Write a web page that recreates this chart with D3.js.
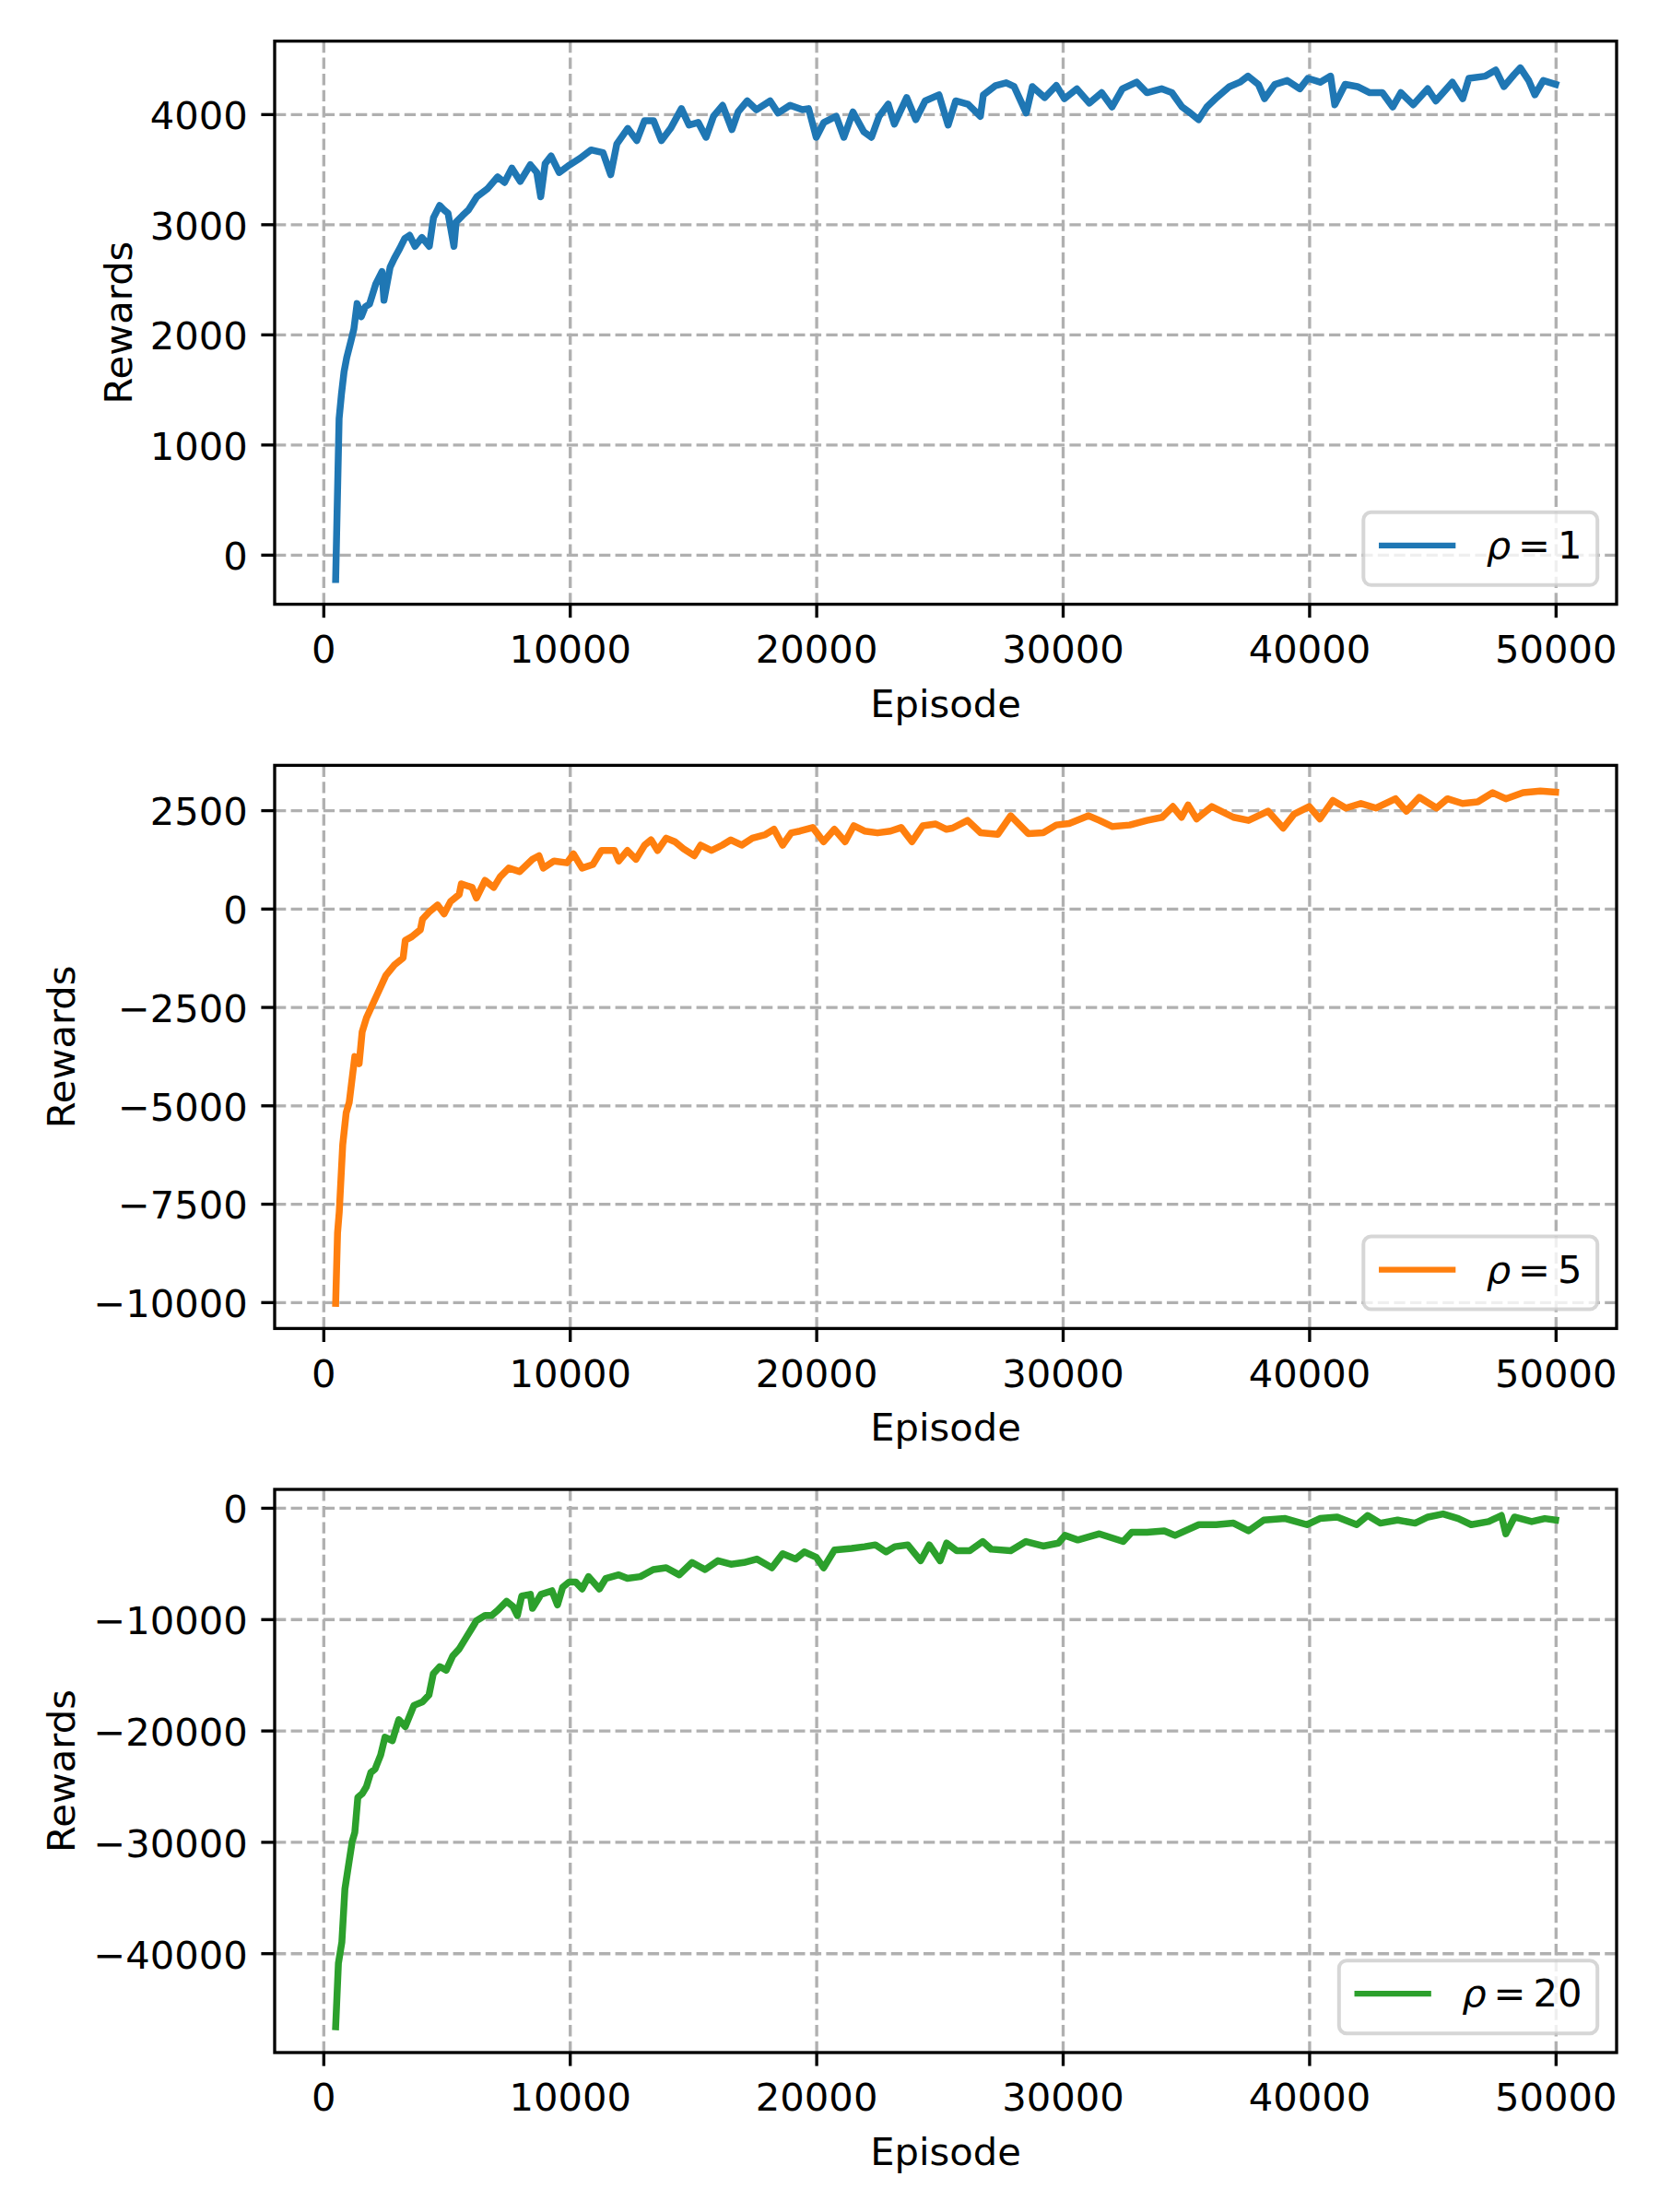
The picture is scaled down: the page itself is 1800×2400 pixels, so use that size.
<!DOCTYPE html>
<html lang="en">
<head>
<meta charset="UTF-8">
<title>Rewards per episode</title>
<script src="https://d3js.org/d3.v7.min.js"></script>
<style>
  body { margin: 0; background: #fff; }
  text { font-family: "DejaVu Sans", sans-serif; }
</style>
</head>
<body>
<div id="chart"></div>
<script>
// [episode, reward]
const rho1 = [[500,-225],[640,1235],[735,1456],[840,1660],[950,1790],[1120,1940],[1240,2050],[1370,2280],[1540,2160],[1700,2250],[1875,2275],[2130,2460],[2380,2570],[2460,2310],[2710,2610],[2880,2690],[3100,2780],[3300,2870],[3500,2900],[3720,2800],[4000,2880],[4300,2800],[4470,3060],[4720,3170],[4900,3130],[5060,3100],[5300,2800],[5390,3020],[5650,3080],[5890,3130],[6230,3250],[6650,3320],[7070,3430],[7350,3380],[7650,3510],[7990,3390],[8400,3540],[8660,3470],[8820,3250],[9000,3550],[9240,3620],[9570,3470],[10000,3540],[10420,3600],[10860,3675],[11350,3650],[11660,3450],[11910,3730],[12350,3870],[12720,3760],[13030,3940],[13400,3940],[13720,3760],[14090,3870],[14530,4050],[14840,3900],[15210,3925],[15530,3790],[15830,3980],[16200,4080],[16580,3860],[16830,4020],[17200,4120],[17570,4040],[18130,4120],[18450,4010],[18940,4080],[19440,4040],[19690,4050],[20000,3790],[20310,3925],[20810,3980],[21120,3790],[21490,4020],[21930,3840],[22240,3790],[22550,3980],[22920,4090],[23170,3910],[23670,4150],[24040,3950],[24420,4120],[24980,4175],[25350,3900],[25660,4120],[26160,4090],[26660,3980],[26780,4175],[27280,4260],[27710,4285],[28030,4250],[28520,4010],[28770,4250],[29270,4150],[29740,4260],[30070,4140],[30575,4230],[31080,4100],[31580,4195],[32000,4065],[32420,4230],[33000,4290],[33420,4195],[34010,4230],[34430,4195],[34845,4065],[35180,4010],[35515,3950],[35850,4065],[36270,4155],[36770,4250],[37190,4290],[37520,4345],[37940,4270],[38190,4140],[38610,4270],[39110,4305],[39620,4230],[39950,4325],[40450,4290],[40870,4345],[41040,4085],[41460,4270],[41960,4250],[42460,4195],[42970,4195],[43390,4065],[43720,4195],[44220,4085],[44810,4230],[45140,4120],[45810,4290],[46230,4140],[46480,4325],[47150,4345],[47570,4400],[47900,4250],[48320,4360],[48570,4420],[48910,4305],[49160,4175],[49500,4305],[50000,4270]];

const rho5 = [[500,-10030],[577,-8240],[647,-7700],[787,-6000],[927,-5190],[1050,-4925],[1137,-4477],[1277,-3760],[1452,-3940],[1575,-3134],[1750,-2776],[2012,-2418],[2275,-2060],[2537,-1700],[2887,-1430],[3237,-1254],[3325,-806],[3587,-716],[3937,-537],[4025,-270],[4287,-90],[4637,90],[4900,-134],[5162,180],[5512,358],[5600,627],[6037,537],[6212,268],[6562,716],[6912,537],[7174,806],[7524,1030],[7962,940],[8487,1254],[8750,1343],[8924,1030],[9361,1209],[9886,1164],[10149,1388],[10499,1030],[10936,1120],[11286,1477],[11811,1477],[11986,1209],[12336,1477],[12686,1254],[13036,1612],[13298,1746],[13561,1477],[13911,1791],[14261,1701],[14611,1522],[15048,1343],[15311,1612],[15748,1477],[16185,1612],[16535,1746],[16973,1612],[17410,1791],[17935,1880],[18285,2015],[18635,1612],[18985,1925],[19335,1970],[19860,2060],[20297,1701],[20735,2015],[21172,1701],[21522,2104],[21960,1970],[22485,1925],[23010,1970],[23447,2060],[23885,1701],[24322,2104],[24847,2149],[25284,2015],[25527,2045],[26140,2241],[26667,1928],[27370,1889],[27890,2359],[28600,1906],[29210,1928],[29740,2124],[30263,2163],[31052,2359],[31490,2241],[32020,2085],[32720,2124],[33420,2241],[34034,2320],[34470,2594],[34820,2320],[35087,2633],[35437,2280],[36050,2594],[36930,2320],[37540,2241],[38330,2476],[38945,2045],[39383,2398],[40000,2594],[40437,2280],[40963,2750],[41490,2555],[42100,2672],[42716,2555],[43505,2790],[43944,2476],[44470,2829],[45170,2555],[45610,2790],[46224,2672],[46840,2711],[47450,2946],[47980,2790],[48680,2946],[49380,2986],[50000,2960]];

const rho20 = [[500,-46600],[612,-40900],[752,-39000],[875,-34240],[1050,-31700],[1172,-29960],[1277,-29160],[1400,-26000],[1575,-25680],[1750,-25040],[1925,-23780],[2100,-23460],[2327,-22190],[2502,-20600],[2800,-20920],[3062,-19020],[3325,-19650],[3675,-17750],[4025,-17430],[4287,-16800],[4462,-14900],[4725,-14260],[4987,-14580],[5250,-13310],[5512,-12680],[5775,-11730],[6037,-10780],[6212,-10140],[6562,-9670],[6825,-9670],[7087,-9190],[7437,-8400],[7700,-8880],[7875,-9670],[8050,-7925],[8400,-7770],[8487,-9030],[8837,-7770],[9275,-7450],[9502,-8720],[9712,-7130],[9975,-6660],[10237,-6660],[10500,-7290],[10762,-6180],[11200,-7290],[11462,-6340],[11987,-6020],[12337,-6340],[12862,-6180],[13387,-5550],[13912,-5390],[14437,-6020],[14962,-4910],[15487,-5550],[16012,-4750],[16537,-5070],[17062,-4910],[17587,-4600],[18200,-5390],[18637,-4120],[19162,-4600],[19512,-3960],[20000,-4440],[20300,-5390],[20737,-3800],[21437,-3650],[21962,-3490],[22400,-3330],[22837,-3960],[23187,-3490],[23712,-3330],[24237,-4750],[24587,-3330],[25025,-4750],[25290,-3170],[25700,-3860],[26230,-3860],[26755,-3030],[27100,-3720],[27890,-3860],[28510,-3030],[29210,-3440],[29825,-3170],[30090,-2480],[30614,-2890],[31490,-2340],[32455,-3030],[32800,-2200],[33420,-2200],[34120,-2070],[34560,-2480],[35525,-1515],[36227,-1515],[36930,-1380],[37540,-2070],[38160,-1100],[39030,-965],[39910,-1515],[40437,-965],[41140,-830],[41930,-1515],[42370,-690],[42890,-1380],[43590,-1100],[44300,-1380],[44820,-830],[45435,-550],[46050,-965],[46575,-1515],[47280,-1240],[47800,-690],[47980,-2340],[48330,-830],[49030,-1240],[49560,-965],[50000,-1100]];

const xTicks = [0, 10000, 20000, 30000, 40000, 50000];
const yTicks1 = [0, 1000, 2000, 3000, 4000];
const yTicks5 = [-10000, -7500, -5000, -2500, 0, 2500];
const yTicks20 = [-40000, -30000, -20000, -10000, 0];
const legendLabels = ["1", "5", "20"];
const colors = ["#1f77b4", "#ff7f0e", "#2ca02c"];

var width = 1800, height = 2400;
var left = 298, right = 1754, panelH = 611;
var tops = [44.6, 830.4, 1616];
var fs = 41.67;   // 10pt at 300 dpi
var lw = 3.33;    // 0.8pt

var panels = [
  { data: rho1, ticks: yTicks1, domain: [-450, 4663], label: legendLabels[0], color: colors[0] },
  { data: rho5, ticks: yTicks5, domain: [-10670, 3640], label: legendLabels[1], color: colors[1] },
  { data: rho20, ticks: yTicks20, domain: [-48920, 1650], label: legendLabels[2], color: colors[2] }
];

var svg = d3.select("#chart").append("svg")
  .attr("width", width).attr("height", height)
  .style("display", "block");

svg.append("rect").attr("width", width).attr("height", height).attr("fill", "white");

var x = d3.scaleLinear().domain([-1975, 52475]).range([left, right]);
var fmt = d3.format("d");

panels.forEach(function (p, i) {
  var g = svg.append("g").attr("transform", "translate(0," + tops[i] + ")");
  var y = d3.scaleLinear().domain(p.domain).range([panelH, 0]);

  g.append("clipPath").attr("id", "clip" + i)
    .append("rect").attr("x", left).attr("y", 0)
    .attr("width", right - left).attr("height", panelH);

  // dashed grid
  g.append("g")
    .attr("transform", "translate(0," + panelH + ")")
    .call(d3.axisBottom(x).tickValues(xTicks).tickSize(-panelH).tickFormat(""))
    .call(s => s.select(".domain").remove())
    .selectAll("line")
    .attr("stroke", "#b0b0b0").attr("stroke-width", lw).attr("stroke-dasharray", "12.3,5.3");

  g.append("g")
    .attr("transform", "translate(" + left + ",0)")
    .call(d3.axisLeft(y).tickValues(p.ticks).tickSize(-(right - left)).tickFormat(""))
    .call(s => s.select(".domain").remove())
    .selectAll("line")
    .attr("stroke", "#b0b0b0").attr("stroke-width", lw).attr("stroke-dasharray", "12.3,5.3");

  // the series (a bit thicker to stand in for the fine jitter of the original)
  var line = d3.line()
    .x(d => x(d[0]))
    .y(d => y(d[1]));

  g.append("path")
    .datum(p.data)
    .attr("clip-path", "url(#clip" + i + ")")
    .attr("fill", "none")
    .attr("stroke", p.color)
    .attr("stroke-width", 7.5)
    .attr("stroke-linejoin", "round")
    .attr("stroke-linecap", "square")
    .attr("d", line);

  // frame
  g.append("rect")
    .attr("x", left).attr("y", 0)
    .attr("width", right - left).attr("height", panelH)
    .attr("fill", "none").attr("stroke", "black").attr("stroke-width", lw);

  // ticks and labels
  var xAxis = g.append("g")
    .attr("transform", "translate(0," + panelH + ")")
    .attr("color", "black")
    .call(d3.axisBottom(x).tickValues(xTicks).tickSize(14.6).tickPadding(14.6).tickFormat(fmt));
  xAxis.select(".domain").remove();
  xAxis.selectAll("line").attr("stroke-width", lw);
  xAxis.selectAll("text").attr("font-size", fs).attr("font-family", "DejaVu Sans").attr("dy", "0.82em");

  var yAxis = g.append("g")
    .attr("transform", "translate(" + left + ",0)")
    .attr("color", "black")
    .call(d3.axisLeft(y).tickValues(p.ticks).tickSize(14.6).tickPadding(14.6).tickFormat(fmt));
  yAxis.select(".domain").remove();
  yAxis.selectAll("line").attr("stroke-width", lw);
  yAxis.selectAll("text").attr("font-size", fs).attr("font-family", "DejaVu Sans").attr("dy", "0.38em");

  g.append("text")
    .attr("x", (left + right) / 2)
    .attr("y", panelH + 122)
    .attr("text-anchor", "middle")
    .attr("font-size", fs)
    .text("Episode");

  var labBox = yAxis.node().getBBox();
  var labX = left + labBox.x - 20;
  g.append("text")
    .attr("transform", "translate(" + labX + "," + (panelH / 2) + ") rotate(-90)")
    .attr("text-anchor", "middle")
    .attr("font-size", fs)
    .text("Rewards");

  // legend, lower right
  var lg = g.append("g");
  var boxBottom = panelH - 20.8;
  var boxH = 79;
  var frame = lg.append("rect");
  var txt = lg.append("text")
    .attr("font-size", fs)
    .attr("y", boxBottom - 29);
  txt.append("tspan").attr("font-style", "italic").text("ρ");
  txt.append("tspan").attr("dx", 8).text("=");
  txt.append("tspan").attr("dx", 8).text(p.label);
  var textW = txt.node().getBBox().width;
  var boxW = 16.7 + 83.3 + 33.3 + textW + 16.7;
  var boxX = right - 20.8 - boxW;
  txt.attr("x", boxX + 16.7 + 83.3 + 33.3);
  frame
    .attr("x", boxX).attr("y", boxBottom - boxH)
    .attr("width", boxW).attr("height", boxH)
    .attr("rx", 8.3)
    .attr("fill", "white").attr("fill-opacity", 0.8)
    .attr("stroke", "#cccccc").attr("stroke-opacity", 0.8).attr("stroke-width", 4);
  lg.append("line")
    .attr("x1", boxX + 16.7).attr("x2", boxX + 16.7 + 83.3)
    .attr("y1", boxBottom - 43).attr("y2", boxBottom - 43)
    .attr("stroke", p.color).attr("stroke-width", 6.25);
});
</script>
</body>
</html>
